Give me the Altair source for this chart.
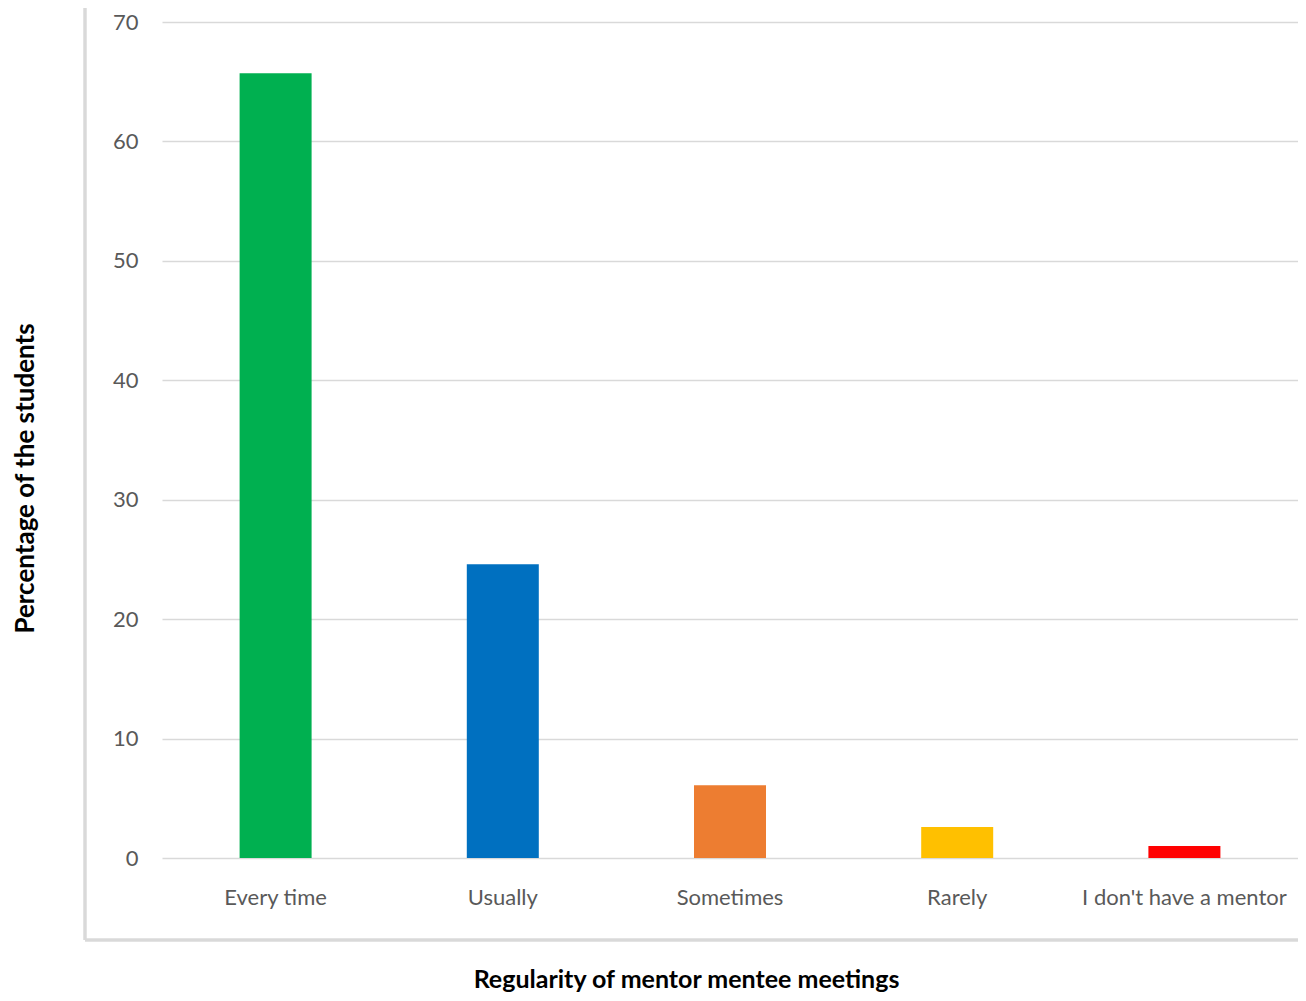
import altair as alt
import pandas as pd

categories = ["Every time", "Usually", "Sometimes", "Rarely", "I don't have a mentor"]
values = [65.7, 24.6, 6.1, 2.6, 1.0]
colors = ["#00B050", "#0070C0", "#ED7D31", "#FFC000", "#FF0000"]
y_ticks = [0, 10, 20, 30, 40, 50, 60, 70]

df = pd.DataFrame({"category": categories, "value": values, "color": colors})

FONT = "Lato"
W, H = 1136, 836

bars = alt.Chart(df).mark_bar(size=72).encode(
    x=alt.X(
        "category:N",
        sort=categories,
        scale=alt.Scale(paddingInner=0, paddingOuter=0),
        axis=alt.Axis(
            title="Regularity of mentor mentee meetings",
            titleFont=FONT, titleFontSize=25, titleFontWeight="bold", titleColor="#000000",
            titleX=524, titleY=129, titleAlign="center", titleBaseline="alphabetic",
            labelFont=FONT, labelFontSize=22, labelColor="#595959", labelLimit=0,
            labelAngle=0, labelPadding=39, labelBaseline="middle",
            ticks=False, domain=False, grid=False,
        ),
    ),
    y=alt.Y(
        "value:Q",
        scale=alt.Scale(domain=[0, 70], nice=False),
        axis=alt.Axis(
            title="Percentage of the students",
            titleFont=FONT, titleFontSize=26, titleFontWeight="bold", titleColor="#000000",
            titleAngle=270, titleX=-137, titleY=456, titleAlign="center", titleBaseline="middle",
            labelFont=FONT, labelFontSize=22, labelColor="#595959",
            labelPadding=24, values=y_ticks,
            ticks=False, domain=False,
            grid=True, gridColor="#d9d9d9", gridWidth=1.5,
        ),
    ),
    color=alt.Color("color:N", scale=None),
)

border_left = alt.Chart(df).mark_rule(color="#d9d9d9", strokeWidth=2.5).encode(
    x=alt.value(-77), y=alt.value(-22), y2=alt.value(918)
)
border_bottom = alt.Chart(df).mark_rule(color="#d9d9d9", strokeWidth=2.5).encode(
    x=alt.value(-77), x2=alt.value(1136), y=alt.value(918)
)

chart = alt.layer(border_left, border_bottom, bars).properties(
    width=W, height=H,
    autosize=alt.AutoSizeParams(type="none"),
    padding={"left": 154, "top": 14, "right": 0, "bottom": 135},
).configure_view(stroke=None)

chart.save("out.html", embed_options={"renderer": "svg", "actions": False})
